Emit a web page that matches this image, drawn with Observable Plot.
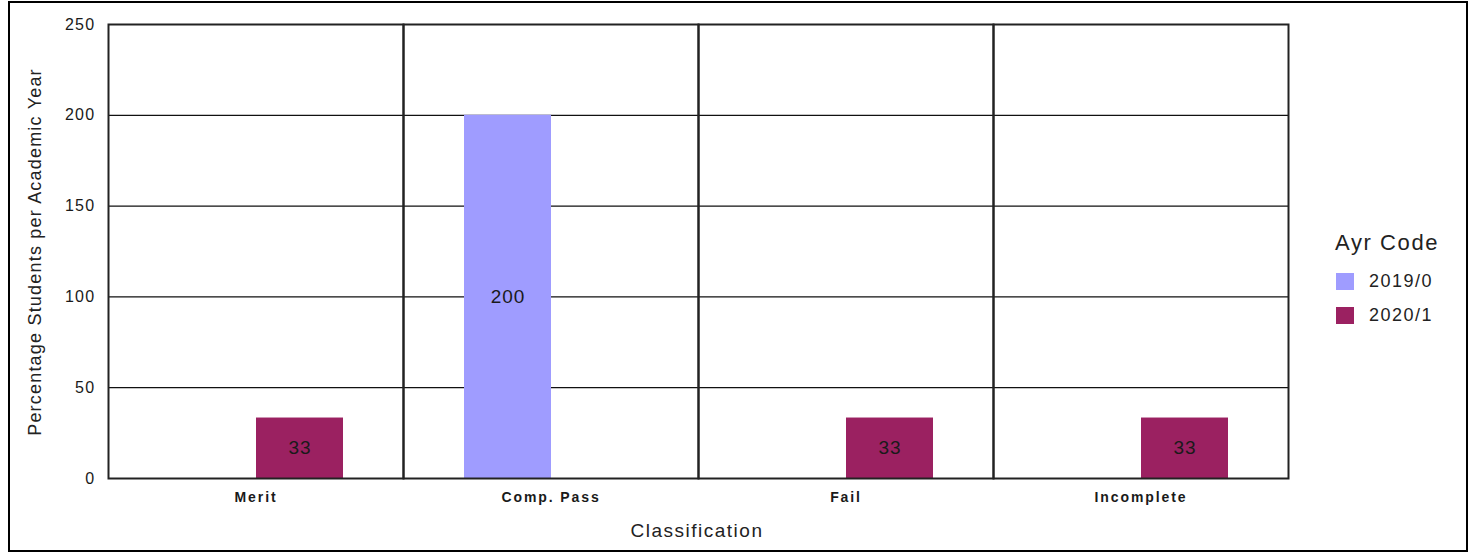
<!DOCTYPE html>
<html>
<head>
<meta charset="utf-8">
<script src="https://cdn.jsdelivr.net/npm/d3@7"></script>
<script src="https://cdn.jsdelivr.net/npm/@observablehq/plot@0.6"></script>
<style>
  html, body { margin: 0; padding: 0; background: #fff; }
  #wrap { position: relative; width: 1471px; height: 553px; overflow: hidden; font-family: "Liberation Sans", Arial, sans-serif; color: #222; }
  #chart { position: absolute; left: 0; top: 0; }
  #border { position: absolute; left: 8px; top: 1px; width: 1460px; height: 551px; border: 2.5px solid #000; box-sizing: border-box; pointer-events: none; }
  .title-y { position: absolute; left: 35px; top: 252px; transform: translate(-50%, -50%) rotate(-90deg); white-space: nowrap; font-size: 18px; letter-spacing: 1.2px; }
  .title-x { position: absolute; left: 697px; top: 531px; transform: translate(-50%, -50%); white-space: nowrap; font-size: 19px; letter-spacing: 1.5px; }
  #legend { position: absolute; left: 1335px; top: 229px; }
  #legend .lt { font-size: 22px; letter-spacing: 1.6px; line-height: 28px; margin-bottom: 7px; }
  #legend .item { display: flex; align-items: center; height: 34px; font-size: 18px; letter-spacing: 1.5px; }
  #legend .sw { width: 18px; height: 17px; margin-left: 1px; margin-right: 15px; }
  svg g[aria-label="y-axis tick label"] text { letter-spacing: 1.3px; }
  svg g[aria-label="fx-axis tick label"] text { letter-spacing: 1.9px; }
  svg g[aria-label="text"] text { letter-spacing: 1px; }
</style>
</head>
<body>
<div id="wrap">
  <div id="chart"></div>
  <div class="title-y">Percentage Students per Academic Year</div>
  <div class="title-x">Classification</div>
  <div id="legend"></div>
  <div id="border"></div>
</div>
<script>
const classifications = ["Merit", "Comp. Pass", "Fail", "Incomplete"];
const years = ["2019/0", "2020/1"];
const values2019 = [0, 200, 0, 0];
const values2020 = [33.3, 0, 33.3, 33.3];
const yearColors = ["#9f9cff", "#9b2161"];
const yTicks = [0, 50, 100, 150, 200, 250];

const data = [];
classifications.forEach((c, i) => {
  data.push({cls: c, year: years[0], value: values2019[i]});
  data.push({cls: c, year: years[1], value: values2020[i]});
});
const labelled = data.filter(d => d.value > 0);

const chart = Plot.plot({
  width: 1471,
  height: 553,
  marginLeft: 106,
  marginRight: 182,
  marginTop: 24,
  marginBottom: 75,
  style: {fontFamily: "'Liberation Sans', Arial, sans-serif", color: "#222", background: "transparent"},
  fx: {domain: classifications, padding: 0},
  x: {domain: years, paddingInner: 0, paddingOuter: 0.68, axis: null},
  y: {domain: [0, 250], axis: null},
  color: {domain: years, range: yearColors},
  marks: [
    Plot.ruleY(yTicks, {stroke: "#111", strokeWidth: 1.2}),
    Plot.barY(data, {fx: "cls", x: "year", y: "value", fill: "year"}),
    Plot.text(labelled, {fx: "cls", x: "year", y: d => d.value / 2, text: d => d3.format(".0f")(d.value), fontSize: 19, fill: "#1a1a1a"}),
    Plot.frame({stroke: "#222", strokeWidth: 2}),
    Plot.axisY({ticks: yTicks, tickSize: 0, tickPadding: 13, fontSize: 16, fill: "#1a1a1a", label: null}),
    Plot.axisFx({anchor: "bottom", tickSize: 0, tickPadding: 14, fontSize: 14, fontWeight: "bold", fill: "#1a1a1a", label: null})
  ]
});
document.getElementById("chart").appendChild(chart);

const legend = document.getElementById("legend");
const lt = document.createElement("div");
lt.className = "lt";
lt.textContent = "Ayr Code";
legend.appendChild(lt);
years.forEach((y, i) => {
  const it = document.createElement("div");
  it.className = "item";
  const sw = document.createElement("span");
  sw.className = "sw";
  sw.style.background = yearColors[i];
  const tx = document.createElement("span");
  tx.textContent = y;
  it.appendChild(sw);
  it.appendChild(tx);
  legend.appendChild(it);
});
</script>
</body>
</html>
